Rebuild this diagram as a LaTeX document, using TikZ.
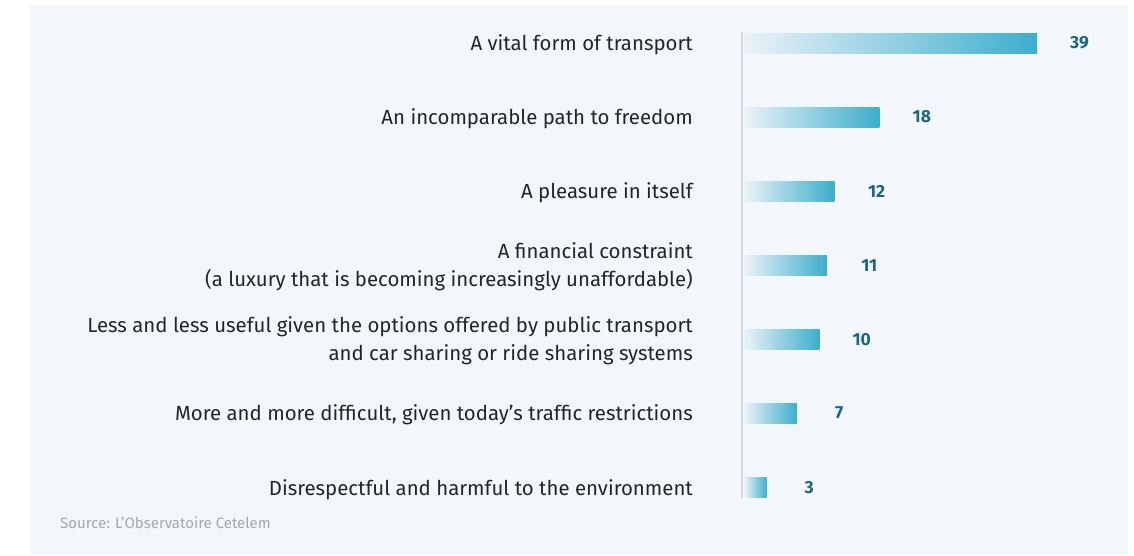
\documentclass[tikz,border=0pt]{standalone}
\usepackage{xcolor}
\usepackage{fontspec}
\setmainfont{Fira Sans}
\usepackage{tikz}
\usetikzlibrary{positioning}

\definecolor{panelbg}{HTML}{F3F7FB}
\definecolor{axisgray}{HTML}{D6D9DC}
\definecolor{barlight}{HTML}{EBF2F8}
\definecolor{bardark}{HTML}{3DAECD}
\definecolor{valblue}{HTML}{1B6688}
\definecolor{labeltext}{HTML}{252525}
\definecolor{sourcegray}{HTML}{A3A8AD}

\begin{document}
\begin{tikzpicture}[x=1pt,y=-1pt,
    answer/.style={anchor=east,align=right,text=labeltext,inner sep=0pt,
      font=\fontsize{20.4}{28}\selectfont},
    barbox/.style={anchor=west,draw=none,inner sep=0pt,minimum height=20pt,
      left color=barlight,right color=bardark},
    value/.style={text=valblue,inner sep=0pt,text width=24pt,align=center,
      font=\fontsize{17.5}{20}\selectfont\bfseries}]
    \useasboundingbox (0,0) rectangle (1134,555);
    \fill[panelbg] (30,5) rectangle (1128,555);

    \coordinate (axistop) at (742,32);
    \coordinate (axisbot) at (742,498);
    \draw[axisgray,line width=2.5pt] (axistop) -- (axisbot);

    \node[answer] (l1) at (693,45) {A vital form of transport};
    \node[barbox,minimum width=292.9pt] (b1) at (744,43) {};
    \node[value,right=30pt of b1] (v1) {39};

    \node[answer] (l2) at (693,119) {An incomparable path to freedom};
    \node[barbox,minimum width=135.2pt] (b2) at (744,117) {};
    \node[value,right=30pt of b2] (v2) {18};

    \node[answer] (l3) at (693,193) {A pleasure in itself};
    \node[barbox,minimum width=90.1pt] (b3) at (744,191) {};
    \node[value,right=30pt of b3] (v3) {12};

    \node[answer] (l4) at (693,266.5) {A financial constraint\\(a luxury that is becoming increasingly unaffordable)};
    \node[barbox,minimum width=82.6pt] (b4) at (744,265.5) {};
    \node[value,right=30pt of b4] (v4) {11};

    \node[answer] (l5) at (693,341) {Less and less useful given the options offered by public transport\\and car sharing or ride sharing systems};
    \node[barbox,minimum width=75.1pt] (b5) at (744,339.5) {};
    \node[value,right=30pt of b5] (v5) {10};

    \node[answer] (l6) at (693,415) {More and more difficult, given today’s traffic restrictions};
    \node[barbox,minimum width=52.6pt] (b6) at (744,413) {};
    \node[value,right=30pt of b6] (v6) {7};

    \node[answer] (l7) at (693,489.5) {Disrespectful and harmful to the environment};
    \node[barbox,minimum width=22.5pt] (b7) at (744,487.5) {};
    \node[value,right=30pt of b7] (v7) {3};

    \node[anchor=west,inner sep=0pt,text=sourcegray,font=\fontsize{15}{18}\selectfont]
      (source) at (60,523) {Source: L’Observatoire Cetelem};
\end{tikzpicture}
\end{document}
